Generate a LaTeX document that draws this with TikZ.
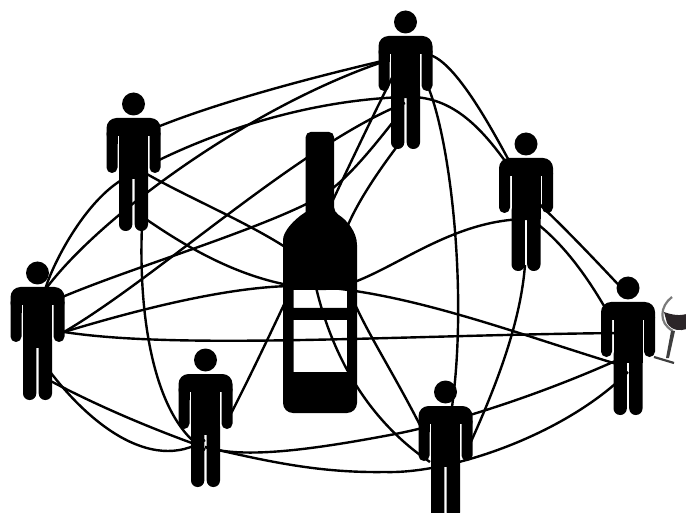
\documentclass[tikz,border=0pt]{standalone}
\usepackage{xcolor}
\usepackage{tikz}
\definecolor{wine}{HTML}{2B2528}
\definecolor{glassgrey}{HTML}{7A7A7A}
\definecolor{stemgrey}{HTML}{3F3F3F}
\begin{document}
\begin{tikzpicture}[x=1pt,y=-1pt, link/.style={line width=2.4pt,black},
person/.pic={
\fill (0,0) circle (11.5pt);
\fill[rounded corners=10pt] (-27,40)--(-27,14)--(27,14)--(27,40)--cycle;
\fill[white] (-16,32) rectangle (-14.5,42);
\fill[white] (14.5,32) rectangle (16,42);
\fill[rounded corners=5.4pt] (-27,24) rectangle (-16,69);
\fill[rounded corners=5.4pt] (16,24) rectangle (27,69);
\fill (-14.5,14) rectangle (14.5,75);
\fill[rounded corners=6.5pt] (-14.5,60) rectangle (-1.2,127);
\fill[rounded corners=6.5pt] (1.2,60) rectangle (14.5,127);
},
bottle/.pic={
\fill[even odd rule,rounded corners=5pt] (305.7,212)--(305.7,132)--(334,132)--(334,212)
 .. controls (347,220) and (357,232) .. (357,250)--(357,250) [rounded corners=10pt] --(357,413)--(283,413)--(283,250)
 [sharp corners] .. controls (283,232) and (293,220) .. (305.7,212)--cycle
 (293.5,290) [sharp corners] rectangle (347,308) (293.5,320) rectangle (347,372);
},
glass/.pic={
\fill[wine] (664,312) .. controls (672,315) and (680,316) .. (687,314)--(687,329) .. controls (680,331) and (672,331) .. (667,323)--cycle;
\draw[glassgrey,line width=2.2pt] (672,297) .. controls (660,306) and (658,323) .. (673,331);
\fill[stemgrey] (671,331)--(675,331)--(669,358)--(666,358)--cycle;
\draw[stemgrey,line width=2.2pt] (654,357)--(674,363);
}]
\clip (0,0) rectangle (686,513);
% line ends on the left figure
\coordinate (la) at (45,290); \coordinate (lb) at (60,298); \coordinate (lc) at (64,332);
\coordinate (ld) at (45,378); \coordinate (le) at (45,365);
% line ends on the upper left figure
\coordinate (ua) at (150,130); \coordinate (ub) at (155,162); \coordinate (uc) at (125,178);
\coordinate (ud) at (140,170); \coordinate (ue) at (140,215); \coordinate (uf) at (142,225);
% line ends on the top figure
\coordinate (ta) at (395,58); \coordinate (tb) at (400,113); \coordinate (tc) at (405,103);
\coordinate (td) at (395,72); \coordinate (te) at (402,140); \coordinate (tf) at (425,80);
\coordinate (tg) at (425,54);
% line ends on the right figures
\coordinate (ra) at (510,168); \coordinate (rb) at (530,219); \coordinate (rc) at (525,265);
\coordinate (rd) at (515,172); \coordinate (re) at (535,200); \coordinate (rf) at (535,222);
\coordinate (wa) at (620,365); \coordinate (wb) at (620,333); \coordinate (wc) at (622,358);
\coordinate (wd) at (628,372); \coordinate (we) at (628,295); \coordinate (wf) at (612,320);
% line ends on the lower figures
\coordinate (ba) at (430,462); \coordinate (bb) at (425,435); \coordinate (bc) at (450,420);
\coordinate (bd) at (465,455);
\coordinate (ma) at (205,447); \coordinate (mb) at (225,425); \coordinate (mc) at (200,446);
\coordinate (md) at (205,440); \coordinate (me) at (205,450);
\draw[link] (ua) .. controls (210,105) and (300,80) .. (ta);
\draw[link] (ub) .. controls (220,130) and (310,100) .. (405,97) .. controls (450,95) and (480,125) .. (ra);
\draw[link] (la) .. controls (100,215) and (260,100) .. (ta);
\draw[link] (la) .. controls (52,265) and (85,200) .. (uc);
\draw[link] (lb) .. controls (130,268) and (260,230) .. (320,197) .. controls (345,183) and (375,145) .. (tb);
\draw[link] (lc) .. controls (158,277) and (300,145) .. (tc);
\draw[link] (mb) .. controls (270,340) and (340,180) .. (td);
\draw[link] (bb) .. controls (385,355) and (350,310) .. (340,260) .. controls (337,230) and (375,175) .. (te);
\draw[link] (lc) .. controls (130,312) and (230,285) .. (300,286) .. controls (400,288) and (520,335) .. (wa);
\draw[link] (ue) .. controls (190,250) and (250,285) .. (320,289) .. controls (375,290) and (440,218) .. (rb);
\draw[link] (ud) .. controls (190,200) and (280,235) .. (312,268) .. controls (325,340) and (360,415) .. (ba);
\draw[link] (uf) .. controls (138,320) and (155,420) .. (me);
\draw[link] (ld) .. controls (95,405) and (150,428) .. (mc);
\draw[link] (le) .. controls (85,420) and (150,475) .. (md);
\draw[link] (ma) .. controls (240,458) and (300,452) .. (390,435) .. controls (450,424) and (540,395) .. (wc);
\draw[link] (ma) .. controls (270,462) and (320,473) .. (385,472) .. controls (450,474) and (565,435) .. (wd);
\draw[link] (tf) .. controls (450,130) and (470,300) .. (bc);
\draw[link] (rc) .. controls (520,330) and (490,400) .. (bd);
\draw[link] (tg) .. controls (450,55) and (485,115) .. (rd);
\draw[link] (re) .. controls (565,228) and (600,265) .. (we);
\draw[link] (rf) .. controls (565,245) and (590,280) .. (wf);
\draw[link] (lc) .. controls (180,350) and (400,335) .. (wb);
\pic (left) at (37.5,273) {person};
\pic (upper) at (133.5,104) {person};
\pic (top) at (405.5,22) {person};
\pic (right) at (526,144) {person};
\pic (far) at (628,288) {person};
\pic (low) at (445.5,392) {person};
\pic (mid) at (205.5,360) {person};
\pic (wine) at (0,0) {bottle};
\pic (cup) at (0,0) {glass};
\end{tikzpicture}
\end{document}
